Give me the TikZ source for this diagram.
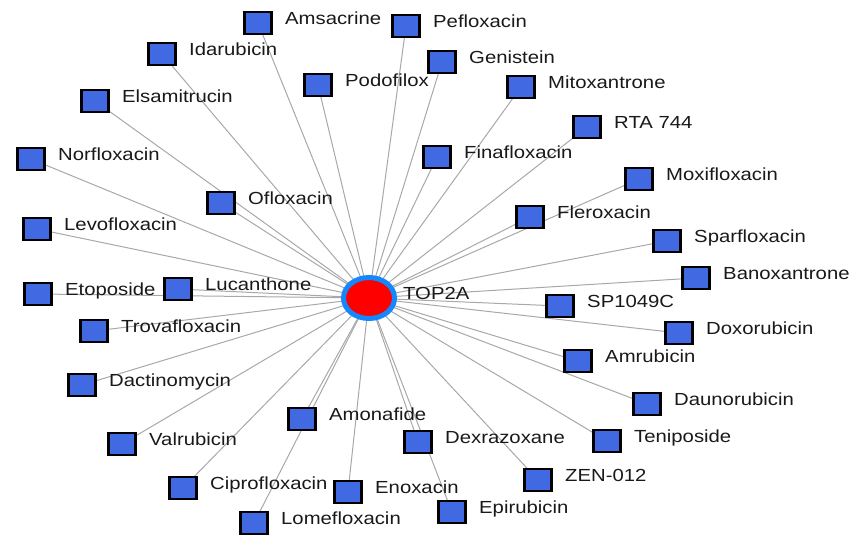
\documentclass[tikz,border=0pt]{standalone}
\usepackage{fontspec}
\setmainfont{Liberation Sans}[FakeStretch=1.16]
\usetikzlibrary{shapes.geometric,backgrounds}
\definecolor{sqblue}{RGB}{65,105,225}
\definecolor{hubblue}{RGB}{20,135,255}
\definecolor{edgegray}{RGB}{168,168,168}
\tikzset{
  sq/.style={draw=black, fill=sqblue, line width=2.8pt, minimum width=27pt, minimum height=22pt, inner sep=0pt},
  lbl/.style={anchor=base west, inner sep=0pt, font=\fontsize{17.5}{20}\selectfont, text=black!90},
  hub/.style={ellipse, draw=hubblue, fill=red, line width=5pt, minimum width=51pt, minimum height=41pt, inner sep=0pt},
  edge/.style={draw=edgegray, line width=1pt}
}
\begin{document}
\begin{tikzpicture}[x=1pt,y=-1pt]
\useasboundingbox (0,0) rectangle (853,535);
\node[hub] (top) at (369,298) {};
\node[lbl] (top-l) at (403,299) {TOP2A};
\foreach \n/\x/\y/\t in {
  amsa/258/23/Amsacrine,
  peflo/406/26/Pefloxacin,
  idaru/162/54/Idarubicin,
  geni/442/62/Genistein,
  podo/318/85/Podofilox,
  mitox/521/87/Mitoxantrone,
  elsa/95/101/Elsamitrucin,
  rta/587/127/RTA 744,
  fina/437/157/Finafloxacin,
  norflo/31/159/Norfloxacin,
  moxi/639/179/Moxifloxacin,
  oflo/221/203/Ofloxacin,
  flero/530/217/Fleroxacin,
  levo/37/229/Levofloxacin,
  sparf/667/241/Sparfloxacin,
  banox/696/278/Banoxantrone,
  lucan/178/289/Lucanthone,
  etopo/38/294/Etoposide,
  sp/560/306/SP1049C,
  trova/94/331/Trovafloxacin,
  doxo/679/333/Doxorubicin,
  amru/578/361/Amrubicin,
  dacti/82/385/Dactinomycin,
  dauno/647/404/Daunorubicin,
  amona/302/419/Amonafide,
  teni/607/441/Teniposide,
  dexra/418/442/Dexrazoxane,
  valru/122/444/Valrubicin,
  zen/538/480/ZEN-012,
  cipro/183/488/Ciprofloxacin,
  enox/348/492/Enoxacin,
  epiru/452/512/Epirubicin,
  lome/254/523/Lomefloxacin}
{
  \node[sq] (\n) at (\x,\y) {};
  \node[lbl] (\n-l) at (\x+27,\y+1.5) {\t};
}
\begin{scope}[on background layer]
\foreach \n in {amsa,peflo,idaru,geni,podo,mitox,elsa,rta,fina,norflo,moxi,oflo,flero,levo,sparf,banox,lucan,etopo,sp,trova,doxo,amru,dacti,dauno,amona,teni,dexra,valru,zen,cipro,enox,epiru,lome}
  \draw[edge] (\n.center) -- (top.center);
\end{scope}
\end{tikzpicture}
\end{document}
